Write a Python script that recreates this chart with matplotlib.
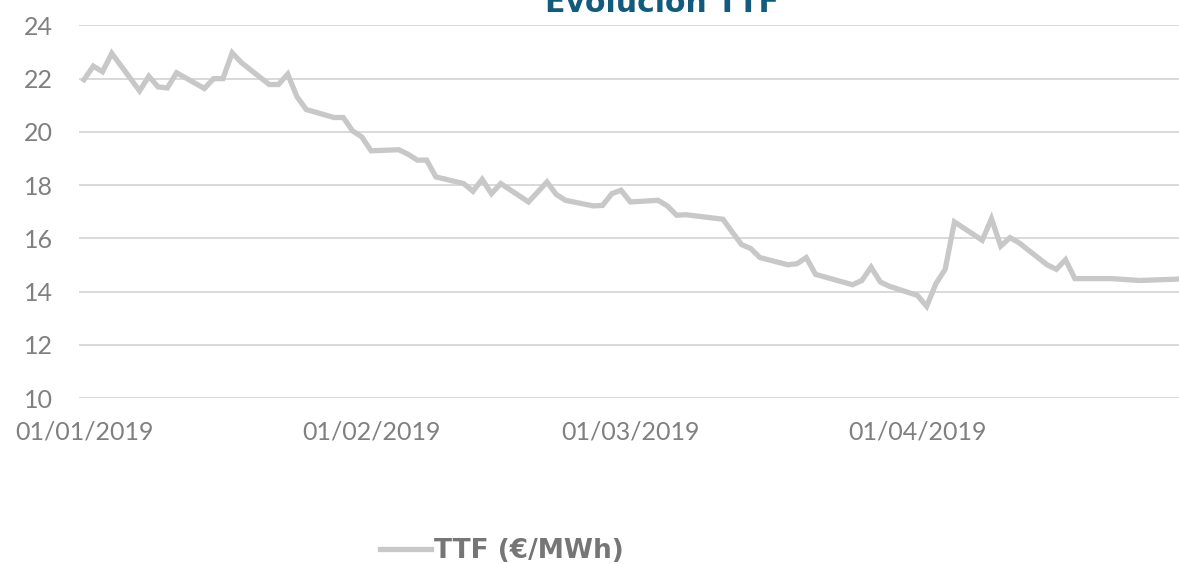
import numpy as np
import pandas as pd
import matplotlib
matplotlib.use("Agg")
import matplotlib.pyplot as plt

# Datos (TTF, €/MWh)
fechas = [
    "2019-01-01", "2019-01-02", "2019-01-03", "2019-01-04",
    "2019-01-07", "2019-01-08", "2019-01-09", "2019-01-10", "2019-01-11",
    "2019-01-14", "2019-01-15", "2019-01-16", "2019-01-17", "2019-01-18",
    "2019-01-21", "2019-01-22", "2019-01-23", "2019-01-24", "2019-01-25",
    "2019-01-28", "2019-01-29", "2019-01-30", "2019-01-31", "2019-02-01",
    "2019-02-04", "2019-02-05", "2019-02-06", "2019-02-07", "2019-02-08",
    "2019-02-11", "2019-02-12", "2019-02-13", "2019-02-14", "2019-02-15",
    "2019-02-18", "2019-02-20", "2019-02-21", "2019-02-22",
    "2019-02-25", "2019-02-26", "2019-02-27", "2019-02-28", "2019-03-01",
    "2019-03-04", "2019-03-05", "2019-03-06", "2019-03-07",
    "2019-03-11", "2019-03-12", "2019-03-13", "2019-03-14", "2019-03-15",
    "2019-03-18", "2019-03-19", "2019-03-20", "2019-03-21",
    "2019-03-25", "2019-03-26", "2019-03-27", "2019-03-28", "2019-03-29",
    "2019-04-01", "2019-04-02", "2019-04-03", "2019-04-04", "2019-04-05",
    "2019-04-08", "2019-04-09", "2019-04-10", "2019-04-11", "2019-04-12",
    "2019-04-15", "2019-04-16", "2019-04-17", "2019-04-18",
    "2019-04-22", "2019-04-25", "2019-04-29",
]
ttf = [
    21.96, 22.47, 22.26, 22.95,
    21.54, 22.09, 21.69, 21.65, 22.22,
    21.63, 22.00, 22.00, 22.97, 22.60,
    21.78, 21.78, 22.17, 21.32, 20.84,
    20.54, 20.54, 20.04, 19.81, 19.29,
    19.33, 19.16, 18.94, 18.94, 18.31,
    18.06, 17.77, 18.22, 17.68, 18.06,
    17.37, 18.12, 17.65, 17.43,
    17.22, 17.24, 17.68, 17.81, 17.37,
    17.43, 17.22, 16.87, 16.89,
    16.72, 16.24, 15.77, 15.62, 15.28,
    15.01, 15.05, 15.28, 14.65,
    14.26, 14.42, 14.92, 14.36, 14.20,
    13.86, 13.45, 14.30, 14.84, 16.62,
    15.93, 16.74, 15.71, 16.03, 15.83,
    15.01, 14.84, 15.20, 14.49,
    14.49, 14.42, 14.47,
]
etiquetas_x = ["01/01/2019", "01/02/2019", "01/03/2019", "01/04/2019"]
fechas_x = ["2019-01-01", "2019-02-01", "2019-03-01", "2019-04-01"]
ticks_y = [10, 12, 14, 16, 18, 20, 22, 24]

plt.rcParams["font.family"] = ["Lato", "DejaVu Sans"]

fig = plt.figure(figsize=(11.79, 5.64), dpi=100)
ax = fig.add_axes([0.067, 0.294, 0.933, 0.661])

x = pd.to_datetime(fechas)
ax.plot(x, ttf, color="#C8C8C8", lw=3.8, solid_joinstyle="miter",
        label="TTF (€/MWh)")

ax.set_ylim(10, 24)
ax.set_yticks(ticks_y)
ax.set_yticklabels([str(v) for v in ticks_y])
inicio = pd.Timestamp("2019-01-01")
ax.set_xlim(inicio - pd.Timedelta(hours=13), inicio + pd.Timedelta(days=118.25))
ax.set_xticks(pd.to_datetime(fechas_x))
ax.set_xticklabels(etiquetas_x)

ax.grid(axis="y", color="#D9D9D9", lw=1.4)
ax.set_axisbelow(True)
for s in ax.spines.values():
    s.set_visible(False)
ax.tick_params(axis="both", length=0, labelsize=18, colors="#808080")
ax.tick_params(axis="y", pad=19)
ax.tick_params(axis="x", pad=16)

# el título queda recortado arriba, como en el original
fig.text(662 / 1179, 1 - 12 / 564, "Evolución TTF", ha="center", va="baseline",
         fontsize=21.5, fontweight="bold", color="#135B7C", family="DejaVu Sans")

leg = fig.legend(loc="center left", bbox_to_anchor=(356 / 1179, 1 - 551 / 564),
                 frameon=False, prop={"family": "DejaVu Sans", "weight": "bold",
                                      "size": 19},
                 handlelength=1.95, handletextpad=0.12)
for t in leg.get_texts():
    t.set_color("#767676")

fig.savefig("out.png", dpi=100)
